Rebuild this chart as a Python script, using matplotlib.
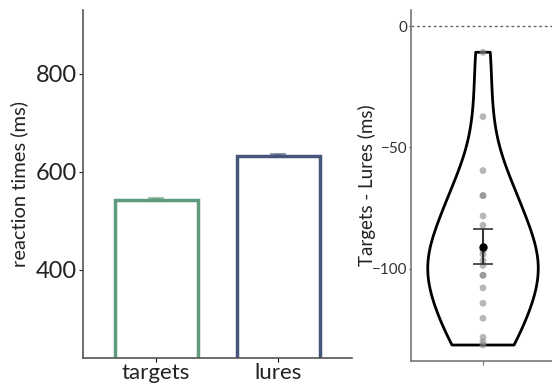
import numpy as np
import matplotlib.pyplot as plt

plt.rcParams['font.family'] = ['Lato', 'DejaVu Sans']

# left panel: mean reaction times
conditions = ["targets", "lures"]
rt_means = [543, 633]
rt_errs = [3, 3]
bar_colors = ["#5f9b7e", "#46567a"]

# right panel: per-subject differences (targets - lures)
diffs = [-10.8, -37.3, -59.5, -69.8, -69.8, -78.2, -82.0, -92.5, -94.0,
         -96.5, -98.5, -102.6, -102.6, -107.8, -114.1, -120.3, -128.1,
         -130.0, -131.3]

fig = plt.figure(figsize=(5.52, 3.84), dpi=100)
ax1 = fig.add_axes([0.150, 0.068, 0.487, 0.906])
ax2 = fig.add_axes([0.745, 0.061, 0.26, 0.913])

x = np.arange(1, len(conditions) + 1)
ax1.bar(x, rt_means, width=0.68, bottom=0, fill=False,
        edgecolor=bar_colors, linewidth=2.5)
for xi, m, e, c in zip(x, rt_means, rt_errs, bar_colors):
    ax1.errorbar(xi, m, yerr=e, color=c, alpha=0.6, capsize=6,
                 elinewidth=6, capthick=1.5)
ax1.set_xlim(0.4, 2.6)
ax1.set_ylim(220, 930)
ax1.set_xticks(x)
ax1.set_xticklabels(conditions, fontsize=16, color="#222222")
ax1.set_yticks([400, 600, 800])
ax1.tick_params(axis='y', labelsize=17, colors="#222222", length=3, pad=1)
ax1.tick_params(axis='x', length=3, pad=1)
ax1.set_ylabel("reaction times (ms)", fontsize=14.5, color="#222222",
               labelpad=6)
for s in ["top", "right"]:
    ax1.spines[s].set_visible(False)
for s in ["left", "bottom"]:
    ax1.spines[s].set_color("#555555")
    ax1.spines[s].set_linewidth(1.2)

# violin
vp = ax2.violinplot(diffs, positions=[1], widths=0.77, showextrema=False,
                    bw_method=0.5)
for body in vp['bodies']:
    body.set_facecolor('none')
    body.set_edgecolor('black')
    body.set_linewidth(2)
    body.set_alpha(1)
ax2.scatter(np.ones(len(diffs)), diffs, s=24, color="#888888", alpha=0.6,
            edgecolor='none', zorder=3)
mean = np.mean(diffs)
sem = np.std(diffs, ddof=1) / np.sqrt(len(diffs))
ax2.errorbar(1, mean, yerr=sem, fmt='o', color='black', ms=5,
             ecolor="#333333", elinewidth=1.5, capsize=7, capthick=1.2,
             zorder=4)
ax2.axhline(0, color="#666666", linestyle=(0, (2, 2)), linewidth=1)
ax2.set_xlim(0.5, 1.5)
ax2.set_ylim(-137.7, 6.6)
ax2.set_xticks([1])
ax2.set_xticklabels([""])
ax2.set_yticks([0, -50, -100])
ax2.tick_params(axis='y', labelsize=11, colors="#333333", length=1.5, pad=1)
ax2.tick_params(axis='x', length=3, color="#777777")
ax2.set_ylabel("Targets - Lures (ms)", fontsize=13.5, color="#222222",
               labelpad=-3)
for s in ["top", "right"]:
    ax2.spines[s].set_visible(False)
for s in ["left", "bottom"]:
    ax2.spines[s].set_color("#777777")
    ax2.spines[s].set_linewidth(1.2)

plt.savefig("out.png", dpi=100)
